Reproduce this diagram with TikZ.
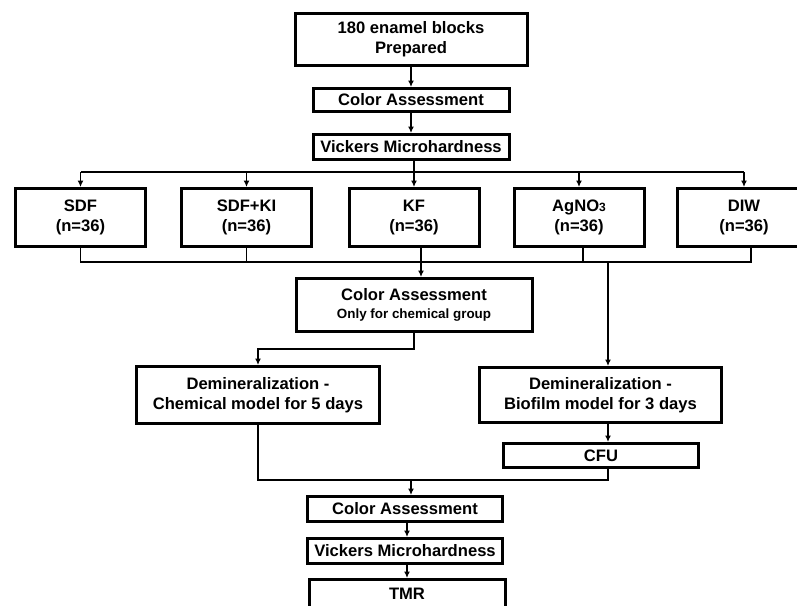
\documentclass[tikz,border=0pt]{standalone}
\usepackage{fontspec}
\setmainfont{Liberation Sans}
\usetikzlibrary{arrows.meta}
\tikzstyle{stage} = [rectangle, draw=black, line width=3pt, inner sep=0pt, align=center, font=\fontsize{16.6}{20}\selectfont\bfseries]
\tikzstyle{group} = [stage, minimum width=130pt, minimum height=58pt]
\tikzstyle{link} = [line width=1.6pt]
\tikzstyle{arr} = [link, -{Latex[length=6.5pt,width=6pt]}]

\begin{document}
\begin{tikzpicture}[x=1pt, y=-1pt]
\useasboundingbox (0,0) rectangle (797,605);

\node (blocks) [stage, minimum width=232pt, minimum height=52pt] at (411,39.5) {180 enamel blocks\\Prepared};
\node (col1) [stage, minimum width=196pt, minimum height=23pt] at (411,100) {Color Assessment};
\node (vick1) [stage, minimum width=196pt, minimum height=25pt] at (411,147) {Vickers Microhardness};

\node (sdf) [group] at (80.5,217.5) {SDF\\(n=36)};
\node (sdfki) [group] at (246.5,217.5) {SDF+KI\\(n=36)};
\node (kf) [group] at (414,217.5) {KF\\(n=36)};
\node (agno) [group] at (579,217.5) {AgNO{\fontsize{12}{12}\selectfont 3}\\(n=36)};
\node (diw) [group, minimum width=133pt] at (744,217.5) {DIW\\(n=36)};

\node (col2) [stage, minimum width=236pt, minimum height=53pt] at (414,305) {\raisebox{-3pt}{Color Assessment}\\[-2pt]\raisebox{-3pt}{\fontsize{13.4}{16}\selectfont Only for chemical group}};
\node (chem) [stage, minimum width=243pt, minimum height=57pt] at (258,395) {Demineralization -\\Chemical model for 5 days};
\node (bio) [stage, minimum width=242pt, minimum height=55pt] at (600.5,395) {Demineralization -\\Biofilm model for 3 days};
\node (cfu) [stage, minimum width=195pt, minimum height=24pt] at (601,455.5) {CFU};
\node (col3) [stage, minimum width=195pt, minimum height=25pt] at (405,509) {Color Assessment};
\node (vick2) [stage, minimum width=195pt, minimum height=25pt] at (405,551) {Vickers Microhardness};
\node (tmr) [stage, minimum width=196pt, minimum height=28pt] at (407,593.5) {TMR};

\coordinate (split) at (0,172);
\coordinate (join) at (0,262);
\coordinate (kfdrop) at (421,262);
\coordinate (biodrop) at (608,262);
\coordinate (merge) at (411,480);

\draw[arr] (blocks) -- (col1);
\draw[arr] (col1) -- (vick1);
\draw[link] (vick1.south -| kf) -- (kf.north |- split);
\draw[link] (sdf.north |- split) -- (diw.north |- split);
\foreach \g in {sdf,sdfki,kf,agno,diw}
  \draw[arr] (\g.north |- split) -- (\g.north);

\draw[link] (sdf.south) -- (sdf.south |- join) -- ([xshift=7pt]diw.south |- join) -- ([xshift=7pt]diw.south);
\draw[link] (sdfki.south) -- (sdfki.south |- join);
\draw[link] (kfdrop |- kf.south) -- (kfdrop);
\draw[link] ([xshift=4pt]agno.south) -- ([xshift=4pt]agno.south |- join);
\draw[arr] (kfdrop) -- (kfdrop |- col2.north);
\draw[arr] (biodrop) -- (biodrop |- bio.north);

\draw[arr] (col2.south) -- ++(0,16) -| (chem.north);
\draw[arr] (biodrop |- bio.south) -- (biodrop |- cfu.north);
\draw[link] (chem.south) -- (chem.south |- merge) -- (biodrop |- merge) -- (biodrop |- cfu.south);
\draw[arr] (merge) -- (merge |- col3.north);
\draw[arr] (col3.south -| 407,0) -- (vick2.north -| 407,0);
\draw[arr] (vick2.south -| 407,0) -- (tmr.north);
\end{tikzpicture}
\end{document}
